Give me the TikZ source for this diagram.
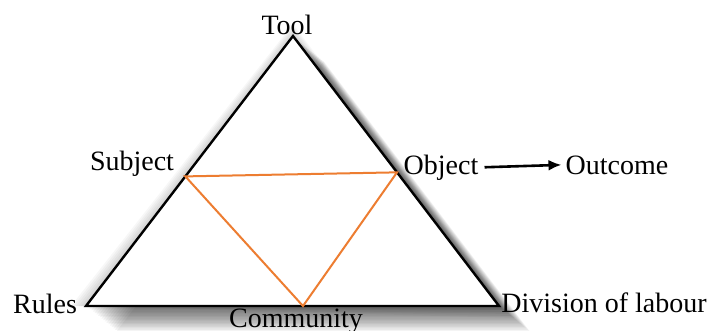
\documentclass[tikz,border=0pt]{standalone}
\usepackage{fontspec}
\setmainfont{Liberation Serif}
\usetikzlibrary{calc,arrows.meta}
\definecolor{orng}{RGB}{237,125,49}
\tikzset{
  lbl/.style={inner sep=0pt,anchor=base,font=\fontsize{28}{30}\selectfont},
  edge/.style={line width=2.4pt,black,line join=miter},
  inner/.style={line width=2pt,orng},
}
\begin{document}
\begin{tikzpicture}[x=1pt,y=-1pt]
\useasboundingbox (0,0) rectangle (715,331);
\coordinate (T) at (293,36);
\coordinate (L) at (86,306);
\coordinate (R) at (499,306);
% shadow
\foreach \i in {1,...,18}{
  \fill[black,opacity=0.045] ($(T)+(\i*1.7,\i*1.4)$) -- ($(L)+(\i*1.7,\i*1.4)$) -- ($(R)+(\i*1.7,\i*1.4)$) -- cycle;
}
\foreach \i in {1,...,6}{
  \fill[black,opacity=0.03] ($(T)+(0,-\i*2)$) -- ($(L)+(-\i*2.5,0)$) -- ($(R)+(\i*2.5,\i*2)$) -- cycle;
}
\fill[white] (T) -- (L) -- (R) -- cycle;
\draw[edge] (T) -- (L) -- (R) -- cycle;
\coordinate (S) at ($(T)!0.52!(L)$);
\coordinate (O) at ($(T)!0.505!(R)$);
\coordinate (C) at (303,306);
\draw[inner,line join=miter] (S) -- (O) -- (C) -- cycle;
\node[lbl] (tool) at (287,35) {Tool};
\node[lbl] (subject) at (132,171) {Subject};
\node[lbl] (object) at (441,175) {Object};
\node[lbl] (outcome) at (617,175) {Outcome};
\node[lbl] (rules) at (45,313) {Rules};
\node[lbl] (community) at (296,327) {Community};
\node[lbl] (division) at (604,312) {Division of labour};
\draw[line width=2.6pt,-{Latex[length=13pt,width=11pt]}] ($(object.east)+(6,-1)$) -- ($(outcome.west)+(-4,-1)$);
\end{tikzpicture}
\end{document}
